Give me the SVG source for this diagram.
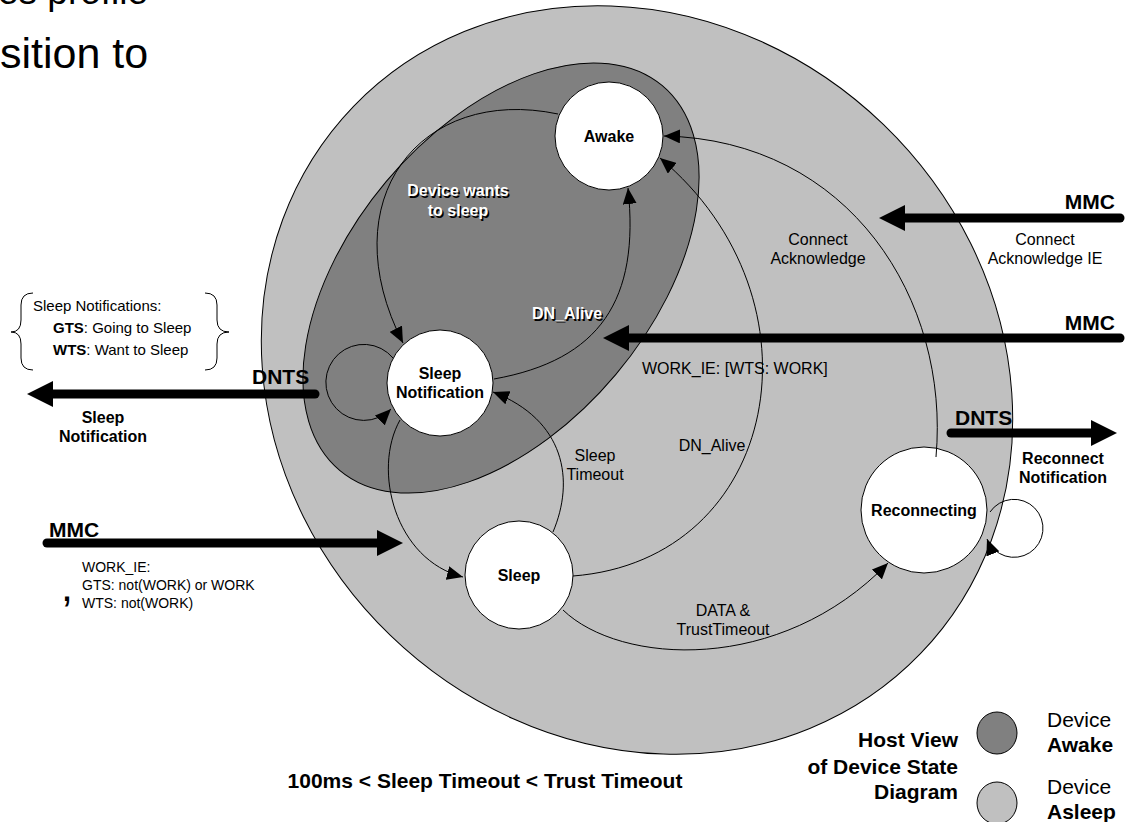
<svg xmlns="http://www.w3.org/2000/svg" width="1126" height="822" viewBox="0 0 1126 822">
<defs>
<style>
text{font-family:"Liberation Sans",Arial,sans-serif;fill:#000}
.b{font-weight:bold}
.s16{font-size:16px}
.s15{font-size:15px}
.s14{font-size:14px}
.s21{font-size:21px}
.big-t{font-size:43px}
.mid{text-anchor:middle}
.end{text-anchor:end}
.node{fill:#fff;stroke:#000;stroke-width:1}
.edge{fill:none;stroke:#000;stroke-width:1;marker-end:url(#ah)}
.big{fill:none;stroke:#000;stroke-width:9;stroke-linecap:round;marker-end:url(#bh)}
.wt{fill:#fff}
.line{fill:none;stroke:#000;stroke-width:1}
</style>
<marker id="ah" markerUnits="userSpaceOnUse" markerWidth="16" markerHeight="14" refX="16" refY="7" orient="auto"><path d="M0,0 L16,7 L0,14 z"/></marker>
<marker id="bh" markerUnits="userSpaceOnUse" markerWidth="26" markerHeight="26" refX="2" refY="13" orient="auto"><path d="M0,0 L26,13 L0,26 z"/></marker>
</defs>
<rect width="1126" height="822" fill="#fff"/>

<!-- slide text fragments -->
<text x="-2" y="4" style="font-size:37px">es profile</text>
<text class="big-t" x="0" y="68">sition to</text>
<text class="big-t" x="61" y="601">,</text>

<!-- regions -->
<g id="region-asleep">
<ellipse cx="637" cy="380" rx="394" ry="355" transform="rotate(44 637 380)" fill="#c0c0c0" stroke="#000" stroke-width="1"/>
</g>
<g id="region-awake">
<ellipse cx="501" cy="278" rx="251" ry="150" transform="rotate(-50 501 278)" fill="#808080" stroke="#000" stroke-width="1"/>
</g>

<!-- nodes -->
<g id="node-awake">
<circle class="node" cx="609" cy="136" r="54"/>
<text class="b s16 mid" x="609" y="142">Awake</text>
</g>
<g id="node-sleep-notification">
<circle class="node" cx="440" cy="383" r="53"/>
<text class="b s16 mid" x="440" y="379">Sleep</text>
<text class="b s16 mid" x="440" y="398">Notification</text>
</g>
<g id="node-sleep">
<circle class="node" cx="519" cy="575" r="54"/>
<text class="b s16 mid" x="519" y="581">Sleep</text>
</g>
<g id="node-reconnecting">
<circle class="node" cx="924" cy="510" r="63"/>
<text class="b s16 mid" x="924" y="516">Reconnecting</text>
</g>

<!-- connectors -->
<g id="connectors">
<path class="edge" d="M558,114 C420,85 330,200 403,343"/>
<path class="edge" d="M494,379 C600,360 640,300 628,188"/>
<path class="edge" d="M393,358 A38,38 0 1 0 391,409"/>
<path class="edge" d="M400,420 C372,470 395,560 463,577"/>
<path class="edge" d="M553,532 C575,480 565,420 493,392"/>
<path class="edge" d="M573,576 C780,560 830,300 660,158"/>
<path class="edge" d="M936,457 C950,300 850,140 664,136"/>
<path class="edge" d="M563,610 C620,665 780,675 888,563"/>
<path class="edge" d="M990,512 A29,29 0 1 1 987,539"/>

<line class="big" x1="1120" y1="218" x2="903" y2="218"/>
<line class="big" x1="1120" y1="338" x2="627" y2="338"/>
<line class="big" x1="951" y1="433" x2="1093" y2="433"/>
<line class="big" x1="315" y1="394" x2="51" y2="394"/>
<line class="big" x1="47" y1="543" x2="379" y2="543"/>
</g>

<!-- connector labels -->
<g id="labels">
<text class="b s16 mid" x="459.5" y="197.5">Device wants</text>
<text class="b s16 mid" x="459.5" y="217.5">to sleep</text>
<text class="b s16 mid wt" x="458" y="196">Device wants</text>
<text class="b s16 mid wt" x="458" y="216">to sleep</text>
<text class="b s16 mid" x="568.5" y="320.5">DN_Alive</text>
<text class="b s16 mid wt" x="567" y="319">DN_Alive</text>

<text class="s16 mid" x="818" y="245">Connect</text>
<text class="s16 mid" x="818" y="264">Acknowledge</text>
<text class="s16" x="642" y="374">WORK_IE: [WTS: WORK]</text>
<text class="s16 mid" x="595" y="461">Sleep</text>
<text class="s16 mid" x="595" y="480">Timeout</text>
<text class="s16 mid" x="712" y="451">DN_Alive</text>
<text class="s16 mid" x="723" y="616">DATA &amp;</text>
<text class="s16 mid" x="723" y="635">TrustTimeout</text>

<text class="b s21 end" x="1115" y="209">MMC</text>
<text class="s16 mid" x="1045" y="245">Connect</text>
<text class="s16 mid" x="1045" y="264">Acknowledge IE</text>
<text class="b s21 end" x="1115" y="330">MMC</text>
<text class="b s21" x="955" y="425">DNTS</text>
<text class="b s16 mid" x="1063" y="464">Reconnect</text>
<text class="b s16 mid" x="1063" y="483">Notification</text>

<text class="b s21" x="252" y="384">DNTS</text>
<text class="b s16 mid" x="103" y="423">Sleep</text>
<text class="b s16 mid" x="103" y="442">Notification</text>

<path class="line" d="M33,293 Q21,293 21,305 L21,320 Q21,332 11,332 Q21,332 21,344 L21,358 Q21,370 33,370"/>
<path class="line" d="M205,293 Q217,293 217,305 L217,320 Q217,332 229,332 Q217,332 217,344 L217,358 Q217,370 205,370"/>
<text class="s15" x="33" y="311">Sleep Notifications:</text>
<text class="s15" x="53" y="333"><tspan class="b">GTS</tspan>: Going to Sleep</text>
<text class="s15" x="53" y="355"><tspan class="b">WTS</tspan>: Want to Sleep</text>

<text class="b s21" x="49" y="537">MMC</text>
<text class="s14" x="82" y="572">WORK_IE:</text>
<text class="s14" x="82" y="590">GTS: not(WORK) or WORK</text>
<text class="s14" x="82" y="608">WTS: not(WORK)</text>

<text class="b s21 mid" x="485" y="788">100ms &lt; Sleep Timeout &lt; Trust Timeout</text>
</g>

<!-- legend -->
<g id="legend">
<text class="b s21 end" x="958" y="747">Host View</text>
<text class="b s21 end" x="958" y="774">of Device State</text>
<text class="b s21 end" x="958" y="799">Diagram</text>
<ellipse cx="997" cy="733" rx="20" ry="21" fill="#808080" stroke="#000" stroke-width="1"/>
<ellipse cx="997" cy="803" rx="20" ry="21" fill="#c0c0c0" stroke="#000" stroke-width="1"/>
<text class="s21" x="1047" y="727">Device</text>
<text class="b s21" x="1047" y="752">Awake</text>
<text class="s21" x="1047" y="794">Device</text>
<text class="b s21" x="1047" y="819">Asleep</text>
</g>
</svg>
